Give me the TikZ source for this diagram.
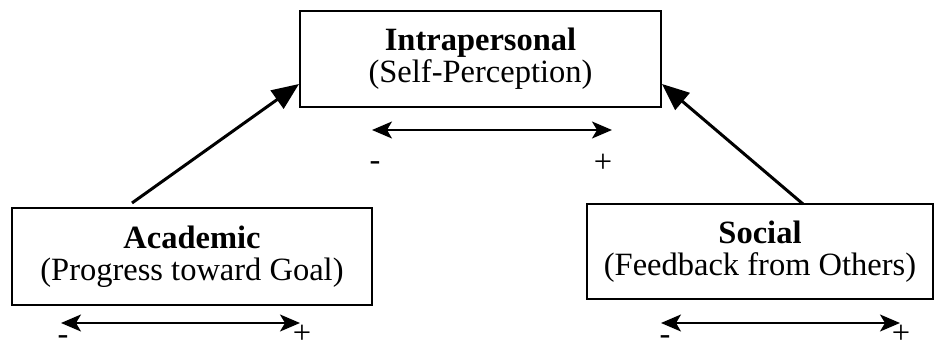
\documentclass[tikz,border=0pt]{standalone}
\usepackage{fontspec}
\setmainfont{Liberation Serif}
\usetikzlibrary{arrows.meta}
\begin{document}
\begin{tikzpicture}[x=1pt,y=-1pt,
  box/.style={draw, line width=2pt, align=center, inner sep=0pt,
    font=\fontsize{32.5}{32}\selectfont},
  diag/.style={line width=3pt, -{Triangle[length=27pt,width=22pt]}},
  scalearrow/.style={line width=2pt,
    {Stealth[length=20pt,width=17pt,inset=5pt]}-{Stealth[length=20pt,width=17pt,inset=5pt]}},
  sign/.style={anchor=base, inner sep=0pt, font=\fontsize{32.5}{32}\selectfont}]
\useasboundingbox (0,0) rectangle (938,350);
% boxes
\node[box, minimum width=361pt, minimum height=96pt] (intra) at (480.5,59)
  {\textbf{Intrapersonal}\\(Self-Perception)};
\node[box, minimum width=360pt, minimum height=97pt] (acad) at (192,256.5)
  {\textbf{Academic}\\(Progress toward Goal)};
\node[box, minimum width=346pt, minimum height=95pt] (soc) at (760,251.5)
  {\textbf{Social}\\(Feedback from Others)};
% diagonal arrows
\coordinate (as) at (132,203);
\coordinate (ss) at (803,204);
\draw[diag] (as) -- ([yshift=-25pt]intra.west);
\draw[diag] (ss) -- ([yshift=-25pt]intra.east);
% scale arrows
\coordinate (ia) at (372,130);
\coordinate (ib) at (612,130);
\draw[scalearrow] (ia) -- (ib);
\coordinate (aa) at (61,323);
\coordinate (ab) at (300,323);
\draw[scalearrow] (aa) -- (ab);
\coordinate (sa) at (661,323);
\coordinate (sb) at (900,323);
\draw[scalearrow] (sa) -- (sb);
% signs
\node[sign] (im) at (375,171) {-};
\node[sign] (ip) at (603,173) {+};
\node[sign] (am) at (63,344) {-};
\node[sign] (ap) at (302,343) {+};
\node[sign] (sm) at (665,344) {-};
\node[sign] (sp) at (901,343) {+};
\end{tikzpicture}
\end{document}
